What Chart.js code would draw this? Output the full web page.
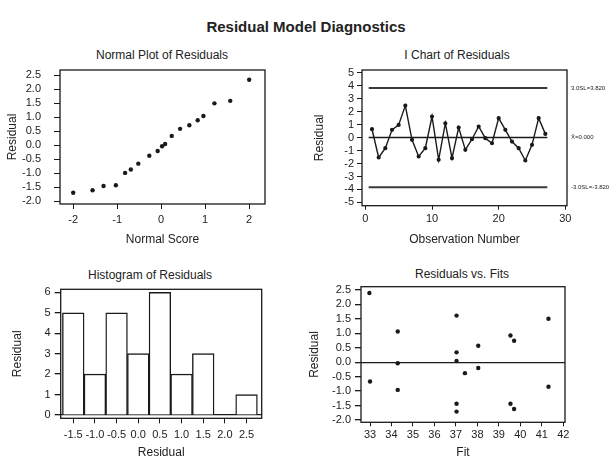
<!DOCTYPE html>
<html>
<head>
<meta charset="utf-8">
<script src="https://cdn.jsdelivr.net/npm/chart.js@4.4.0/dist/chart.umd.min.js"></script>
<style>
    body { margin: 0; background: #fff; width: 612px; height: 463px; position: relative; overflow: hidden; font-family: 'Liberation Sans', Arial, sans-serif; color: #222; }
    #mainTitle { position: absolute; left: 0; top: 18px; width: 612px; text-align: center; font-size: 15px; font-weight: bold; }
    .panel { position: absolute; }
    .panelTitle { position: absolute; width: 200px; text-align: center; font-size: 12px; line-height: 14px; }
</style>
</head>
<body>
<div id="mainTitle">Residual Model Diagnostics</div>
<div class="panelTitle" style="left:62px;top:48px">Normal Plot of Residuals</div>
<div class="panelTitle" style="left:357px;top:48px">I Chart of Residuals</div>
<div class="panelTitle" style="left:50px;top:268px">Histogram of Residuals</div>
<div class="panelTitle" style="left:362px;top:267px">Residuals vs. Fits</div>
<div class="panel" style="left:0;top:46px;width:290px;height:212px"><canvas id="normalChart"></canvas></div>
<div class="panel" style="left:300px;top:46px;width:312px;height:212px"><canvas id="iChart"></canvas></div>
<div class="panel" style="left:0;top:262px;width:290px;height:201px"><canvas id="histChart"></canvas></div>
<div class="panel" style="left:300px;top:262px;width:312px;height:201px"><canvas id="fitsChart"></canvas></div>
<script>
// normal plot of residuals
const normalScores = [-2.0, -1.56, -1.31, -1.03, -0.82, -0.69, -0.52, -0.27, -0.08, 0.02, 0.09, 0.24, 0.43, 0.64, 0.83, 0.96, 1.21, 1.57, 2.0];
const normalResiduals = [-1.70, -1.61, -1.46, -1.43, -0.99, -0.87, -0.66, -0.38, -0.21, -0.04, 0.04, 0.33, 0.58, 0.71, 0.89, 1.04, 1.49, 1.58, 2.33];
const normalScoreTicks = [-2, -1, 0, 1, 2];
const residualTicks = [-2.0, -1.5, -1.0, -0.5, 0.0, 0.5, 1.0, 1.5, 2.0, 2.5];

// I chart
const obsResiduals = [0.64, -1.54, -0.82, 0.59, 0.97, 2.46, -0.18, -1.46, -0.82, 1.62, -1.72, 1.10, -1.59, 0.77, -0.95, -0.13, 0.85, -0.05, -0.44, 1.49, 0.59, -0.31, -0.82, -1.77, -0.56, 1.49, 0.28];
const upperLimit = 3.82;
const centreLine = 0.0;
const lowerLimit = -3.82;
const limitLabels = ['3.0SL=3.820', 'X\u0304=0.000', '-3.0SL=-3.820'];
const obsTicks = [0, 10, 20, 30];
const iChartTicks = [-5, -4, -3, -2, -1, 0, 1, 2, 3, 4, 5];

// histogram
const histBins = [-1.5, -1.0, -0.5, 0.0, 0.5, 1.0, 1.5, 2.0, 2.5];
const histCounts = [5, 2, 5, 3, 6, 2, 3, 0, 1];
const countTicks = [0, 1, 2, 3, 4, 5, 6];

// residuals vs fits
const fitValues = [32.97, 33.0, 34.29, 34.29, 34.29, 37.03, 37.03, 37.03, 37.03, 37.03, 37.42, 38.04, 38.04, 39.54, 39.71, 39.54, 39.71, 41.31, 41.31];
const fitResiduals = [2.39, -0.67, 1.06, -0.04, -0.96, 1.61, 0.34, 0.04, -1.44, -1.71, -0.38, 0.57, -0.20, 0.92, 0.74, -1.44, -1.62, 1.50, -0.85];
const fitTicks = [33, 34, 35, 36, 37, 38, 39, 40, 41, 42];

const INK = '#1a1a1a';
Chart.defaults.font.family = "'Liberation Sans', Arial, sans-serif";
Chart.defaults.color = '#222';
Chart.defaults.animation = false;

const framePlugin = {
    id: 'frame',
    afterDatasetsDraw(chart) {
        const a = chart.chartArea;
        const ctx = chart.ctx;
        ctx.save();
        ctx.strokeStyle = INK;
        ctx.lineWidth = 1.3;
        ctx.strokeRect(a.left, a.top, a.right - a.left, a.bottom - a.top);
        ctx.restore();
    }
};

function toPoints(xs, ys) {
    return xs.map((x, i) => ({ x: x, y: ys[i] }));
}

function fixedTicks(list) {
    return function(axis) {
        axis.ticks = list.map(v => ({ value: v }));
    };
}

function fixWidth(w) {
    return function(axis) { axis.width = w; };
}

function fixHeight(h) {
    return function(axis) { axis.height = h; };
}

function zeroLine(ctx) {
    return ctx.tick && ctx.tick.value === 0 ? INK : 'rgba(0,0,0,0)';
}

function renderNormalChart() {
    new Chart(document.getElementById('normalChart'), {
        type: 'scatter',
        data: {
            datasets: [{
                data: toPoints(normalScores, normalResiduals),
                backgroundColor: INK,
                borderWidth: 0,
                pointRadius: 2.2
            }]
        },
        options: {
            responsive: true,
            maintainAspectRatio: false,
            layout: { padding: { top: 24, right: 25 } },
            plugins: {
                legend: { display: false },
                tooltip: { enabled: false }
            },
            scales: {
                x: {
                    type: 'linear',
                    min: -2.3,
                    max: 2.36,
                    afterBuildTicks: fixedTicks(normalScoreTicks),
                    afterFit: fixHeight(54),
                    border: { display: false },
                    grid: { drawOnChartArea: false, tickLength: 5, tickColor: INK },
                    ticks: { font: { size: 11 }, padding: 4, maxRotation: 0, autoSkip: false },
                    title: { display: true, text: 'Normal Score', font: { size: 12 }, padding: { top: 10.8, bottom: 10.8 } }
                },
                y: {
                    min: -2.1,
                    max: 2.68,
                    afterBuildTicks: fixedTicks(residualTicks),
                    afterFit: fixWidth(60),
                    border: { display: false },
                    grid: { drawOnChartArea: false, tickLength: 6, tickColor: INK },
                    ticks: { font: { size: 11 }, padding: 13, autoSkip: false, callback: v => v.toFixed(1) },
                    title: { display: true, text: 'Residual', font: { size: 12 }, padding: { top: 5.8, bottom: 5.8 } }
                }
            }
        },
        plugins: [framePlugin]
    });
}

function renderIChart() {
    const obsNumbers = obsResiduals.map((v, i) => i + 1);
    const spanStart = obsNumbers[0] - 0.5;
    const spanEnd = obsNumbers[obsNumbers.length - 1] + 0.3;
    const flat = y => [{ x: spanStart, y: y }, { x: spanEnd, y: y }];

    new Chart(document.getElementById('iChart'), {
        type: 'line',
        data: {
            datasets: [{
                data: toPoints(obsNumbers, obsResiduals),
                borderColor: INK,
                backgroundColor: INK,
                borderWidth: 1.4,
                pointRadius: 1.4,
                tension: 0
            }, {
                data: flat(upperLimit),
                borderColor: '#3a3a3a',
                borderWidth: 2,
                pointRadius: 0
            }, {
                data: flat(centreLine),
                borderColor: INK,
                borderWidth: 1.4,
                pointRadius: 0
            }, {
                data: flat(lowerLimit),
                borderColor: '#3a3a3a',
                borderWidth: 2,
                pointRadius: 0
            }]
        },
        options: {
            responsive: true,
            maintainAspectRatio: false,
            layout: { padding: { top: 24 } },
            plugins: {
                legend: { display: false },
                tooltip: { enabled: false }
            },
            scales: {
                x: {
                    type: 'linear',
                    min: -0.5,
                    max: 30.25,
                    afterBuildTicks: fixedTicks(obsTicks),
                    afterFit: fixHeight(52.3),
                    border: { display: false },
                    grid: { drawOnChartArea: false, tickLength: 4, tickColor: INK },
                    ticks: { font: { size: 11 }, padding: 2.7, maxRotation: 0 },
                    title: { display: true, text: 'Observation Number', font: { size: 12 }, padding: { top: 10.8, bottom: 10.8 } }
                },
                y: {
                    min: -5.25,
                    max: 5.2,
                    afterBuildTicks: fixedTicks(iChartTicks),
                    afterFit: fixWidth(62),
                    border: { display: false },
                    grid: { drawOnChartArea: false, tickLength: 5, tickColor: INK },
                    ticks: { font: { size: 11 }, padding: 3, autoSkip: false },
                    title: { display: true, text: 'Residual', font: { size: 12 }, padding: { top: 12.8, bottom: 12.8 } }
                },
                limits: {
                    position: 'right',
                    min: -5.25,
                    max: 5.2,
                    afterBuildTicks: fixedTicks([upperLimit, centreLine, lowerLimit]),
                    afterFit: fixWidth(45),
                    border: { display: false },
                    grid: { display: false, drawTicks: false },
                    ticks: {
                        font: { size: 6 },
                        padding: 4,
                        autoSkip: false,
                        callback: (v, i) => limitLabels[i]
                    }
                }
            }
        },
        plugins: [framePlugin]
    });
}

function renderHistChart() {
    new Chart(document.getElementById('histChart'), {
        type: 'bar',
        data: {
            datasets: [{
                data: toPoints(histBins, histCounts),
                backgroundColor: '#ffffff',
                borderColor: INK,
                borderWidth: 1.4,
                barPercentage: 1,
                categoryPercentage: 1
            }]
        },
        options: {
            responsive: true,
            maintainAspectRatio: false,
            layout: { padding: { top: 27.3, right: 28.3 } },
            plugins: {
                legend: { display: false },
                tooltip: { enabled: false }
            },
            scales: {
                x: {
                    type: 'linear',
                    offset: false,
                    min: -1.79,
                    max: 2.85,
                    afterBuildTicks: fixedTicks(histBins),
                    afterFit: fixHeight(44.7),
                    border: { display: false },
                    grid: { drawOnChartArea: false, tickLength: 5, tickColor: INK, offset: false },
                    ticks: { font: { size: 11 }, padding: 5, maxRotation: 0, autoSkip: false, callback: v => v.toFixed(1) },
                    title: { display: true, text: 'Residual', font: { size: 12 }, padding: { top: 3.1, bottom: 3.1 } }
                },
                y: {
                    min: -0.16,
                    max: 6.15,
                    afterBuildTicks: fixedTicks(countTicks),
                    afterFit: fixWidth(60.7),
                    border: { display: false },
                    grid: { color: zeroLine, lineWidth: 1.3, tickLength: 6, tickColor: INK },
                    ticks: { font: { size: 11 }, padding: 4, autoSkip: false },
                    title: { display: true, text: 'Residual', font: { size: 12 }, padding: { top: 10.8, bottom: 10.8 } }
                }
            }
        },
        plugins: [framePlugin]
    });
}

function renderFitsChart() {
    new Chart(document.getElementById('fitsChart'), {
        type: 'scatter',
        data: {
            datasets: [{
                data: toPoints(fitValues, fitResiduals),
                backgroundColor: INK,
                borderWidth: 0,
                pointRadius: 2.2
            }]
        },
        options: {
            responsive: true,
            maintainAspectRatio: false,
            layout: { padding: { top: 24.7, right: 47 } },
            plugins: {
                legend: { display: false },
                tooltip: { enabled: false }
            },
            scales: {
                x: {
                    type: 'linear',
                    min: 32.58,
                    max: 42.08,
                    afterBuildTicks: fixedTicks(fitTicks),
                    afterFit: fixHeight(40.7),
                    border: { display: false },
                    grid: { drawOnChartArea: false, tickLength: 4, tickColor: INK },
                    ticks: { font: { size: 11 }, padding: 2.1, maxRotation: 0, autoSkip: false },
                    title: { display: true, text: 'Fit', font: { size: 12 }, padding: { top: 3.1, bottom: 3.1 } }
                },
                y: {
                    min: -2.08,
                    max: 2.61,
                    afterBuildTicks: fixedTicks(residualTicks),
                    afterFit: fixWidth(61),
                    border: { display: false },
                    grid: { color: zeroLine, lineWidth: 1.3, tickLength: 6, tickColor: INK },
                    ticks: { font: { size: 11 }, padding: 4, autoSkip: false, callback: v => v.toFixed(1) },
                    title: { display: true, text: 'Residual', font: { size: 12 }, padding: { top: 7.8, bottom: 7.8 } }
                }
            }
        },
        plugins: [framePlugin]
    });
}

renderNormalChart();
renderIChart();
renderHistChart();
renderFitsChart();
</script>
</body>
</html>
